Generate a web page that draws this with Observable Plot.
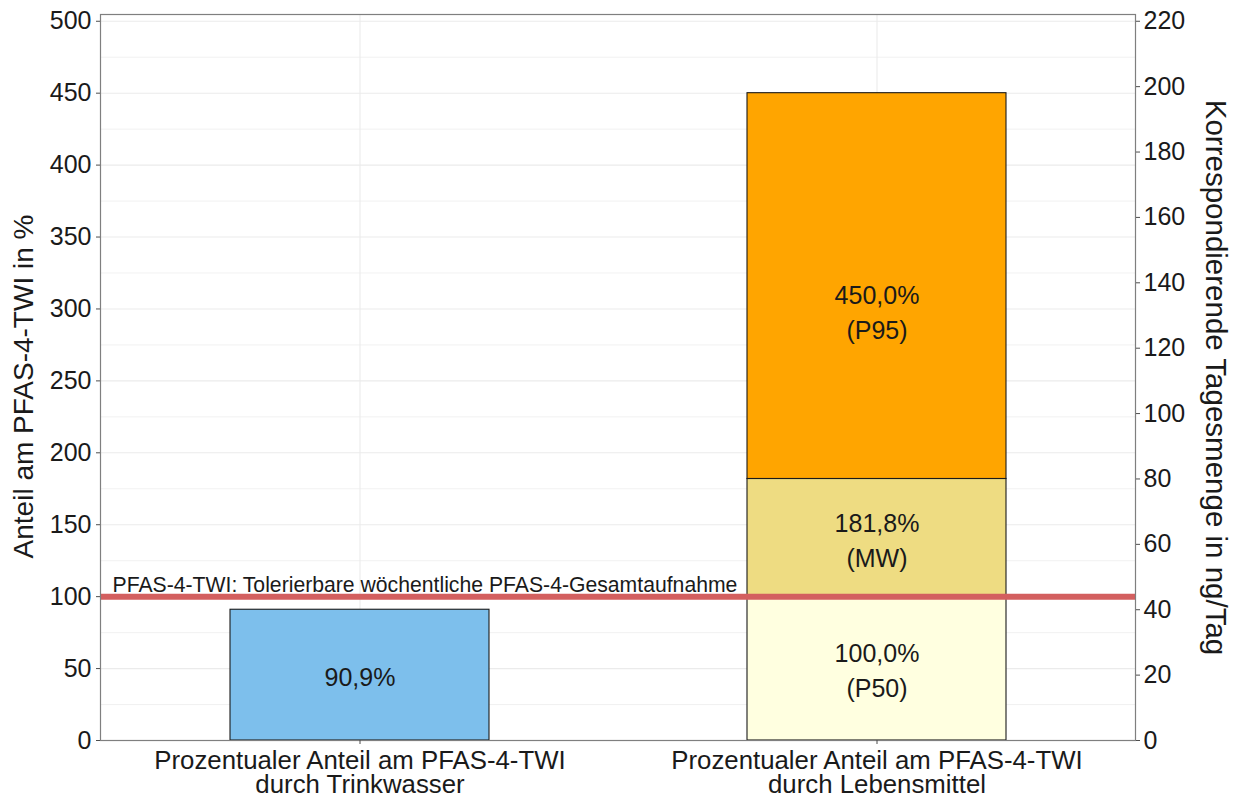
<!DOCTYPE html>
<html><head><meta charset="utf-8">
<script src="https://cdn.jsdelivr.net/npm/d3@7"></script>
<script src="https://cdn.jsdelivr.net/npm/@observablehq/plot@0.6"></script>
<style>
body{margin:0;background:#fff;}
#chart svg{font-family:"Liberation Sans", Arial, sans-serif;}
</style>
</head><body><div id="chart"></div>
<script>
const categories = [
  "Prozentualer Anteil am PFAS-4-TWI\ndurch Trinkwasser",
  "Prozentualer Anteil am PFAS-4-TWI\ndurch Lebensmittel"
];
const segCategory = [0, 1, 1, 1];
const segLow = [0, 0, 100, 181.8];
const segHigh = [90.9, 100, 181.8, 450];
const segLabel = ["90,9%", "100,0%\n(P50)", "181,8%\n(MW)", "450,0%\n(P95)"];
const segLabelY = [45.45, 50, 140.9, 299];
const segColor = ["#7dbfec", "#ffffe0", "#eedc82", "#ffa500"];
const leftTicks = [0, 50, 100, 150, 200, 250, 300, 350, 400, 450, 500];
const minorTicks = [25, 75, 125, 175, 225, 275, 325, 375, 425, 475];
const rightTicks = [0, 20, 40, 60, 80, 100, 120, 140, 160, 180, 200, 220];
const ngPerPercent = 0.44;
const twiValue = 100;
const twiLabel = "PFAS-4-TWI: Tolerierbare wöchentliche PFAS-4-Gesamtaufnahme";
const yTitle = "Anteil am PFAS-4-TWI in %";
const y2Title = "Korrespondierende Tagesmenge in ng/Tag";

const segs = segCategory.map((c, i) => ({
  cat: categories[c], low: segLow[i], high: segHigh[i],
  label: segLabel[i], ly: segLabelY[i], color: segColor[i]
}));

const chart = Plot.plot({
  width: 1236,
  height: 801,
  marginLeft: 100,
  marginRight: 101,
  marginTop: 14,
  marginBottom: 61,
  x: {domain: categories, paddingInner: 0.5, paddingOuter: 0.25, align: 0.5},
  y: {domain: [0, 504.7]},
  color: {type: "identity"},
  marks: [
    Plot.gridY(minorTicks, {stroke: "#ebebeb", strokeOpacity: 1, strokeWidth: 0.7}),
    Plot.gridY(leftTicks, {stroke: "#ebebeb", strokeOpacity: 1, strokeWidth: 1.1}),
    Plot.gridX(categories, {stroke: "#ebebeb", strokeOpacity: 1, strokeWidth: 1.1}),
    Plot.barY(segs, {x: "cat", y1: "low", y2: "high", fill: "color", stroke: "#1a1a1a", strokeWidth: 1.1}),
    Plot.text(segs, {x: "cat", y: "ly", text: "label", fontSize: 25, lineHeight: 1.4, fill: "#1a1a1a"}),
    Plot.ruleY([twiValue], {stroke: "#d35f5f", strokeWidth: 6}),
    Plot.text([twiLabel], {y: twiValue, frameAnchor: "left", dx: 12, dy: -5, textAnchor: "start", lineAnchor: "bottom", fontSize: 21.2, fill: "#1a1a1a"}),
    Plot.frame({stroke: "#7f7f7f", strokeWidth: 1.2}),
    Plot.axisY(leftTicks, {anchor: "left", tickSize: 4, tickPadding: 5, fontSize: 25, label: null, stroke: "#4d4d4d", fill: "#1a1a1a"}),
    Plot.axisY(rightTicks.map(t => t / ngPerPercent), {anchor: "right", tickSize: 4, tickPadding: 4, fontSize: 25, label: null, stroke: "#4d4d4d", fill: "#1a1a1a", tickFormat: d => String(Math.round(d * ngPerPercent))}),
    Plot.axisX({anchor: "bottom", tickSize: 4, tickPadding: 7, fontSize: 25.8, lineHeight: 0.93, label: null, stroke: "#4d4d4d", fill: "#1a1a1a"}),
    Plot.text([yTitle], {frameAnchor: "left", dx: -76, dy: 9, rotate: -90, textAnchor: "middle", lineAnchor: "middle", fontSize: 28, fill: "#1a1a1a"}),
    Plot.text([y2Title], {frameAnchor: "right", dx: 80, rotate: 90, textAnchor: "middle", lineAnchor: "middle", fontSize: 29.5, fill: "#1a1a1a"})
  ]
});
document.getElementById("chart").appendChild(chart);
</script>
</body></html>
